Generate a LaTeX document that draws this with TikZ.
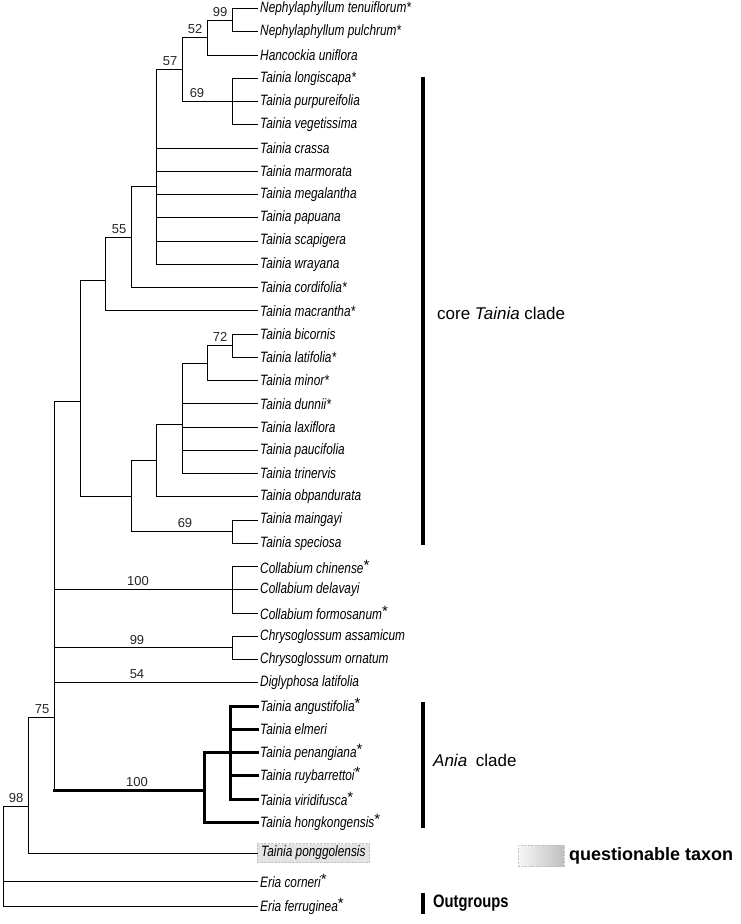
\documentclass[tikz,border=0pt]{standalone}
\usepackage{fontspec}
\setmainfont{Liberation Sans}
\newfontfamily\taxonfont[FakeStretch=0.79]{Liberation Sans}
\newfontfamily\outfont[FakeStretch=0.82]{Liberation Sans}
\newcommand{\upstar}{\raisebox{3pt}{\normalfont *}}

\tikzset{
  branch/.style={line width=1pt, line cap=rect},
  aniabranch/.style={line width=3pt, line cap=rect},
  taxon/.style={anchor=west, inner xsep=3pt, inner ysep=1pt, font={\taxonfont\itshape\fontsize{15}{15}\selectfont}},
  boot/.style={font={\fontsize{13}{13}\selectfont}, text=black!85, inner xsep=4.5pt, inner ysep=3.5pt},
  cladebar/.style={line width=4.5pt},
  cladename/.style={anchor=west, inner sep=0pt, font={\fontsize{17}{17}\selectfont}},
}

\begin{document}
\begin{tikzpicture}[x=1pt, y=-1pt]
  \useasboundingbox (0,0) rectangle (740,924);

  % 叶节点：间距 23.25，从 y=8.5 开始
  \node[taxon] (l1) at (257,8.5) {Nephylaphyllum tenuiflorum*};
  \node[taxon] (l2) at (257,31.75) {Nephylaphyllum pulchrum*};
  \node[taxon] (l3) at (257,55) {Hancockia uniflora};
  \node[taxon] (l4) at (257,78.25) {Tainia longiscapa*};
  \node[taxon] (l5) at (257,101.5) {Tainia purpureifolia};
  \node[taxon] (l6) at (257,124.75) {Tainia vegetissima};
  \node[taxon] (l7) at (257,148) {Tainia crassa};
  \node[taxon] (l8) at (257,171.25) {Tainia marmorata};
  \node[taxon] (l9) at (257,194.5) {Tainia megalantha};
  \node[taxon] (l10) at (257,217.75) {Tainia papuana};
  \node[taxon] (l11) at (257,241) {Tainia scapigera};
  \node[taxon] (l12) at (257,264.25) {Tainia wrayana};
  \node[taxon] (l13) at (257,287.5) {Tainia cordifolia*};
  \node[taxon] (l14) at (257,310.75) {Tainia macrantha*};
  \node[taxon] (l15) at (257,334) {Tainia bicornis};
  \node[taxon] (l16) at (257,357.25) {Tainia latifolia*};
  \node[taxon] (l17) at (257,380.5) {Tainia minor*};
  \node[taxon] (l18) at (257,403.75) {Tainia dunnii*};
  \node[taxon] (l19) at (257,427) {Tainia laxiflora};
  \node[taxon] (l20) at (257,450.25) {Tainia paucifolia};
  \node[taxon] (l21) at (257,473.5) {Tainia trinervis};
  \node[taxon] (l22) at (257,496.75) {Tainia obpandurata};
  \node[taxon] (l23) at (257,520) {Tainia maingayi};
  \node[taxon] (l24) at (257,543.25) {Tainia speciosa};
  \node[taxon] (l25) at (257,566.5) {Collabium chinense\upstar};
  \node[taxon] (l26) at (257,589.75) {Collabium delavayi};
  \node[taxon] (l27) at (257,613) {Collabium formosanum\upstar};
  \node[taxon] (l28) at (257,636.25) {Chrysoglossum assamicum};
  \node[taxon] (l29) at (257,659.5) {Chrysoglossum ornatum};
  \node[taxon] (l30) at (257,682.75) {Diglyphosa latifolia};
  \node[taxon] (l31) at (257,706) {Tainia angustifolia\upstar};
  \node[taxon] (l32) at (257,729.25) {Tainia elmeri};
  \node[taxon] (l33) at (257,752.5) {Tainia penangiana\upstar};
  \node[taxon] (l34) at (257,775.75) {Tainia ruybarrettoi\upstar};
  \node[taxon] (l35) at (257,799) {Tainia viridifusca\upstar};
  \node[taxon] (l36) at (257,822.25) {Tainia hongkongensis\upstar};
  \node[taxon, draw=gray!50, dash pattern=on 2pt off 1.5pt, fill=gray!22,
        inner xsep=4pt, minimum height=19pt] (l37) at (257,853) {Tainia ponggolensis};
  \node[taxon] (l38) at (257,881) {Eria corneri\upstar};
  \node[taxon] (l39) at (257,906) {Eria ferruginea\upstar};

  % 内部节点
  \coordinate (n99) at (232,20.1);
  \coordinate (n52) at (207,37.6);
  \coordinate (n69a) at (232,101.5);
  \coordinate (n57) at (182,69.5);
  \coordinate (npoly) at (156,186.6);
  \coordinate (n55) at (131,237);
  \coordinate (nA) at (105,280);
  \coordinate (n72) at (232,345.6);
  \coordinate (nB) at (207,363);
  \coordinate (nC) at (182,424);
  \coordinate (nD) at (156,460.4);
  \coordinate (n69b) at (232,531.6);
  \coordinate (nE) at (131,496);
  \coordinate (nF) at (80,401);
  \coordinate (n100a) at (232,589.75);
  \coordinate (n99b) at (232,647.9);
  \coordinate (nI) at (230,752.5);
  \coordinate (nAnia) at (204,790);
  \coordinate (nG) at (54,717);
  \coordinate (n75) at (28,806);
  \coordinate (root) at (3,856);

  % 核心 Tainia 分支
  \draw[branch] (n99) |- (l1.west) (n99) |- (l2.west);
  \draw[branch] (n52) |- (n99) (n52) |- (l3.west);
  \draw[branch] (n69a) |- (l4.west) (n69a) -- (l5.west) (n69a) |- (l6.west);
  \draw[branch] (n57) |- (n52) (n57) |- (n69a);
  \draw[branch] (npoly) |- (n57) (npoly) |- (l7.west) (npoly) |- (l8.west)
    (npoly) |- (l9.west) (npoly) |- (l10.west) (npoly) |- (l11.west) (npoly) |- (l12.west);
  \draw[branch] (n55) |- (npoly) (n55) |- (l13.west);
  \draw[branch] (nA) |- (n55) (nA) |- (l14.west);
  \draw[branch] (n72) |- (l15.west) (n72) |- (l16.west);
  \draw[branch] (nB) |- (n72) (nB) |- (l17.west);
  \draw[branch] (nC) |- (nB) (nC) |- (l18.west) (nC) |- (l19.west)
    (nC) |- (l20.west) (nC) |- (l21.west);
  \draw[branch] (nD) |- (nC) (nD) |- (l22.west);
  \draw[branch] (n69b) |- (l23.west) (n69b) |- (l24.west);
  \draw[branch] (nE) |- (nD) (nE) |- (n69b);
  \draw[branch] (nF) |- (nA) (nF) |- (nE);

  % 其余分支
  \draw[branch] (n100a) |- (l25.west) (n100a) -- (l26.west) (n100a) |- (l27.west);
  \draw[branch] (n99b) |- (l28.west) (n99b) |- (l29.west);
  \draw[aniabranch] (nI) |- (l31.west) (nI) |- (l32.west) (nI) -- (l33.west)
    (nI) |- (l34.west) (nI) |- (l35.west);
  \draw[aniabranch] (nAnia) |- (nI) (nAnia) |- (l36.west);
  \draw[branch] (nG) |- (nF) (nG) |- (n100a) (nG) |- (n99b) (nG) |- (l30.west);
  \draw[aniabranch] (nG |- nAnia) -- (nAnia);
  \draw[branch] (nG) -- (nG |- nAnia);
  \draw[branch] (n75) |- (nG) (n75) |- (l37.west);
  \draw[branch] (root) |- (n75) (root) |- (l38.west) (root) |- (l39.west);

  % 支持率
  \node[boot, above left] at (n99) {99};
  \node[boot, above left] at (n52) {52};
  \node[boot, above left] at (n57) {57};
  \node[boot, above] at (197,101.5) {69};
  \node[boot, above left] at (n55) {55};
  \node[boot, above left] at (n72) {72};
  \node[boot, above] at (185,531.6) {69};
  \node[boot, above] at (138,589.75) {100};
  \node[boot, above] at (137,647.9) {99};
  \node[boot, above] at (137,682.75) {54};
  \node[boot, above] at (137,790) {100};
  \node[boot, above left] at (nG) {75};
  \node[boot, above left] at (n75) {98};

  % 右侧分支标记
  \coordinate (coretop) at (423,77);   \coordinate (corebot) at (423,545);
  \coordinate (aniatop) at (423,702);  \coordinate (aniabot) at (423,828);
  \coordinate (outtop) at (423,893);   \coordinate (outbot) at (423,914);
  \draw[cladebar] (coretop) -- (corebot);
  \draw[cladebar] (aniatop) -- (aniabot);
  \draw[cladebar] (outtop) -- (outbot);
  \node[cladename] (corelab) at (437,313) {core \textit{Tainia} clade};
  \node[cladename] (anialab) at (433,760) {\textit{Ania}\hspace{4pt} clade};
  \node[cladename, font={\outfont\bfseries\fontsize{18}{18}\selectfont}] (outlab) at (433,903) {Outgroups};

  % 图例
  \node[draw=gray!50, dash pattern=on 2pt off 1.5pt, left color=gray!6, right color=gray!50,
        minimum width=46pt, minimum height=21pt, inner sep=0pt] (qbox) at (541,855.5) {};
  \node[cladename, font={\bfseries\fontsize{18}{18}\selectfont}] (qlab) at (569,855.5) {questionable taxon};
\end{tikzpicture}
\end{document}
